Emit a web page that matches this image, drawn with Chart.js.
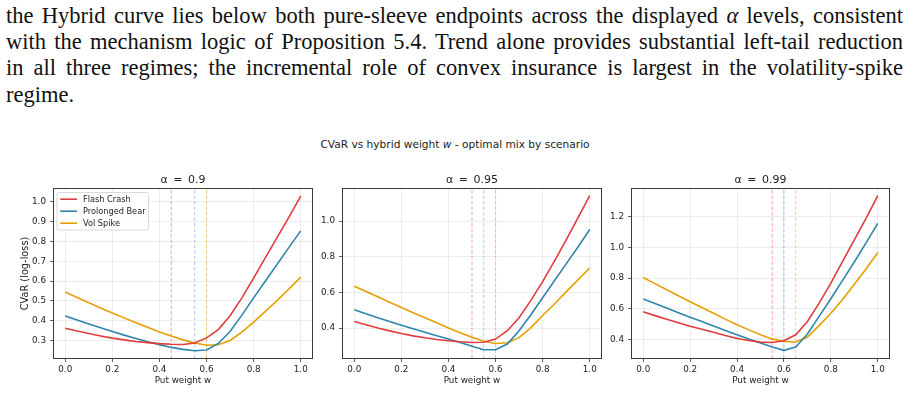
<!DOCTYPE html>
<html>
<head>
<meta charset="utf-8">
<script src="https://cdn.jsdelivr.net/npm/chart.js@4.4.1/dist/chart.umd.min.js"></script>
<style>
  body { margin: 0; width: 910px; height: 393px; background: #fff; position: relative; overflow: hidden; }
  .para { position: absolute; left: 6px; width: 897px; top: 2.5px; font: 22.5px/26.4px "Liberation Serif", serif; word-spacing: -1px; color: #111; }
  .para div { text-align: justify; text-align-last: justify; }
  .para div.last { text-align-last: left; }
  #suptitle { position: absolute; left: 0; width: 910px; top: 137px; text-align: center; font: 10.6px/14px "DejaVu Sans"; color: #222; }
  canvas { position: absolute; top: 165px; }
</style>
</head>
<body>
<div class="para">
  <div>the Hybrid curve lies below both pure-sleeve endpoints across the displayed <i>α</i> levels, consistent</div>
  <div>with the mechanism logic of Proposition 5.4. Trend alone provides substantial left-tail reduction</div>
  <div>in all three regimes; the incremental role of convex insurance is largest in the volatility-spike</div>
  <div class="last">regime.</div>
</div>
<div id="suptitle">CVaR vs hybrid weight <i>w</i> - optimal mix by scenario</div>
<canvas id="c90" width="366" height="228" style="left:0px"></canvas>
<canvas id="c95" width="304" height="228" style="left:320px"></canvas>
<canvas id="c99" width="301" height="228" style="left:610px"></canvas>
<script>
// put weight grid
const weights = [0.00, 0.05, 0.10, 0.15, 0.20, 0.25, 0.30, 0.35, 0.40, 0.45, 0.50,
                 0.55, 0.60, 0.65, 0.70, 0.75, 0.80, 0.85, 0.90, 0.95, 1.00];
const scenarioNames = ['Flash Crash', 'Prolonged Bear', 'Vol Spike'];
const xTicks = [0.0, 0.2, 0.4, 0.6, 0.8, 1.0];

// alpha = 0.90
const flash90 = [0.362, 0.348, 0.335, 0.323, 0.312, 0.303, 0.295, 0.289, 0.284, 0.281, 0.280,
                 0.287, 0.313, 0.355, 0.425, 0.515, 0.615, 0.718, 0.820, 0.923, 1.028];
const bear90  = [0.424, 0.403, 0.383, 0.364, 0.345, 0.327, 0.310, 0.294, 0.279, 0.265, 0.255,
                 0.248, 0.252, 0.285, 0.345, 0.428, 0.515, 0.600, 0.685, 0.770, 0.853];
const vol90   = [0.545, 0.517, 0.490, 0.464, 0.439, 0.414, 0.390, 0.367, 0.343, 0.322, 0.303,
                 0.287, 0.276, 0.278, 0.300, 0.342, 0.393, 0.447, 0.502, 0.560, 0.620];
const optW90 = [0.45, 0.55, 0.60];
const yTicks90 = [0.3, 0.4, 0.5, 0.6, 0.7, 0.8, 0.9, 1.0];

// alpha = 0.95
const flash95 = [0.437, 0.418, 0.400, 0.384, 0.369, 0.356, 0.345, 0.336, 0.329, 0.323, 0.319,
                 0.320, 0.338, 0.385, 0.458, 0.555, 0.660, 0.775, 0.895, 1.018, 1.143];
const bear95  = [0.502, 0.480, 0.458, 0.437, 0.416, 0.396, 0.376, 0.357, 0.339, 0.319, 0.298,
                 0.278, 0.278, 0.310, 0.385, 0.475, 0.570, 0.665, 0.760, 0.855, 0.953];
const vol95   = [0.635, 0.605, 0.575, 0.545, 0.515, 0.486, 0.458, 0.430, 0.400, 0.373, 0.348,
                 0.326, 0.313, 0.317, 0.346, 0.402, 0.470, 0.535, 0.603, 0.670, 0.737];
const optW95 = [0.50, 0.55, 0.60];
const yTicks95 = [0.4, 0.6, 0.8, 1.0];

// alpha = 0.99
const flash99 = [0.580, 0.555, 0.531, 0.508, 0.486, 0.466, 0.446, 0.425, 0.406, 0.392, 0.382,
                 0.379, 0.391, 0.430, 0.517, 0.637, 0.767, 0.909, 1.050, 1.190, 1.339];
const bear99  = [0.664, 0.634, 0.604, 0.574, 0.545, 0.516, 0.487, 0.458, 0.430, 0.403, 0.376,
                 0.350, 0.328, 0.350, 0.435, 0.550, 0.665, 0.785, 0.905, 1.030, 1.157];
const vol99   = [0.804, 0.764, 0.724, 0.685, 0.646, 0.608, 0.570, 0.532, 0.496, 0.462, 0.430,
                 0.403, 0.386, 0.383, 0.415, 0.490, 0.570, 0.660, 0.760, 0.860, 0.967];
const optW99 = [0.55, 0.60, 0.65];
const yTicks99 = [0.4, 0.6, 0.8, 1.0, 1.2];

const lineColors = ['#e03c3c', '#2e86ab', '#e69f00'];
const dashColors = ['rgba(224,60,60,0.5)', 'rgba(46,134,171,0.45)', 'rgba(230,159,0,0.5)'];
const textColor = '#222';

Chart.defaults.font.family = '"DejaVu Sans", sans-serif';
Chart.defaults.color = textColor;

// matplotlib-style box around the plot area
const framePlugin = {
    id: 'frame',
    afterDraw(chart) {
        const {ctx, chartArea: a} = chart;
        ctx.save();
        ctx.strokeStyle = '#3a3a3a';
        ctx.lineWidth = 1;
        ctx.strokeRect(a.left, a.top, a.right - a.left, a.bottom - a.top);
        ctx.restore();
    }
};

// legend drawn inside the axes, upper left, with a framed box
const legendBox = {
    id: 'legendBox',
    afterDatasetsDraw(chart, args, opts) {
        if (!opts.show) return;
        const {ctx, chartArea: a} = chart;
        const items = chart.data.datasets.filter(d => !d.isMarker);
        ctx.save();
        ctx.font = '8.2px "DejaVu Sans"';
        const textW = Math.max(...items.map(d => ctx.measureText(d.label).width));
        const x0 = a.left + 3.5, y0 = a.top + 4;
        const w = 26 + textW + 3, h = items.length * 12 + 1.5;
        ctx.beginPath();
        ctx.roundRect(x0, y0, w, h, 2);
        ctx.fillStyle = 'rgba(255,255,255,0.85)';
        ctx.fill();
        ctx.strokeStyle = '#d0d0d0';
        ctx.lineWidth = 0.8;
        ctx.stroke();
        items.forEach((d, i) => {
            const y = y0 + 6.7 + i * 12;
            ctx.beginPath();
            ctx.moveTo(x0 + 3.3, y);
            ctx.lineTo(x0 + 20, y);
            ctx.strokeStyle = d.borderColor;
            ctx.lineWidth = 1.6;
            ctx.stroke();
            ctx.fillStyle = textColor;
            ctx.textBaseline = 'middle';
            ctx.fillText(d.label, x0 + 26, y + 0.5);
        });
        ctx.restore();
    }
};

function buildPanel(canvasId, cfg) {
    const datasets = [];
    cfg.series.forEach((vals, i) => {
        datasets.push({
            label: scenarioNames[i],
            data: weights.map((w, k) => ({x: w, y: vals[k]})),
            borderColor: lineColors[i],
            borderWidth: 1.6,
            pointRadius: 0,
            tension: 0,
            fill: false
        });
    });
    // dashed verticals at the CVaR-minimising weight of each scenario
    cfg.optimal.forEach((w, i) => {
        datasets.push({
            label: scenarioNames[i] + ' optimum',
            isMarker: true,
            data: [{x: w, y: cfg.yRange[0]}, {x: w, y: cfg.yRange[1]}],
            borderColor: dashColors[i],
            borderWidth: 0.9,
            borderDash: [3.5, 2],
            pointRadius: 0
        });
    });

    const grid = {color: 'rgba(0,0,0,0.09)', lineWidth: 0.8, tickColor: '#3a3a3a', tickLength: 3.5, tickWidth: 0.8};

    return new Chart(document.getElementById(canvasId), {
        type: 'line',
        data: {datasets},
        options: {
            responsive: false,
            animation: false,
            layout: {padding: 0},
            plugins: {
                legend: {display: false},
                tooltip: {enabled: false},
                title: {
                    display: true,
                    text: cfg.title,
                    font: {size: 11, weight: 'normal'},
                    color: textColor,
                    padding: {top: 9, bottom: 1.3}
                },
                legendBox: {show: cfg.showLegend}
            },
            scales: {
                x: {
                    type: 'linear',
                    min: -0.05,
                    max: 1.05,
                    afterBuildTicks: axis => { axis.ticks = xTicks.map(v => ({value: v})); },
                    afterFit: axis => { axis.height = 34.5; },
                    border: {display: false},
                    grid,
                    ticks: {font: {size: 8.8}, padding: 2, autoSkip: false, maxRotation: 0, callback: v => v.toFixed(1)},
                    title: {display: true, text: 'Put weight w', font: {size: 8.8}, padding: {top: 0, bottom: 7.2}}
                },
                y: {
                    type: 'linear',
                    min: cfg.yRange[0],
                    max: cfg.yRange[1],
                    afterBuildTicks: axis => { axis.ticks = cfg.yTicks.map(v => ({value: v})); },
                    afterFit: axis => { axis.width = cfg.yAxisWidth; },
                    border: {display: false},
                    grid,
                    ticks: {font: {size: 8.8}, padding: 4, autoSkip: false, callback: v => v.toFixed(1)},
                    title: {display: cfg.showYTitle, text: 'CVaR (log-loss)', font: {size: 9.8}, padding: {top: 19.1, bottom: 0}}
                },
                // empty right-hand spacer, same width as the y axis, so the title centres on the plot
                spacer: {
                    type: 'linear',
                    position: 'right',
                    min: 0,
                    max: 1,
                    afterFit: axis => { axis.width = cfg.yAxisWidth; },
                    border: {display: false},
                    grid: {display: false},
                    ticks: {display: false}
                }
            }
        },
        plugins: [framePlugin, legendBox]
    });
}

buildPanel('c90', {
    title: 'α\u2002=\u20020.9', series: [flash90, bear90, vol90], optimal: optW90,
    yTicks: yTicks90, yRange: [0.209, 1.067], yAxisWidth: 53.5,
    showLegend: true, showYTitle: true
});
buildPanel('c95', {
    title: 'α\u2002=\u20020.95', series: [flash95, bear95, vol95], optimal: optW95,
    yTicks: yTicks95, yRange: [0.229, 1.183], yAxisWidth: 22.5,
    showLegend: false, showYTitle: false
});
buildPanel('c99', {
    title: 'α\u2002=\u20020.99', series: [flash99, bear99, vol99], optimal: optW99,
    yTicks: yTicks99, yRange: [0.275, 1.385], yAxisWidth: 21.5,
    showLegend: false, showYTitle: false
});
</script>
</body>
</html>
